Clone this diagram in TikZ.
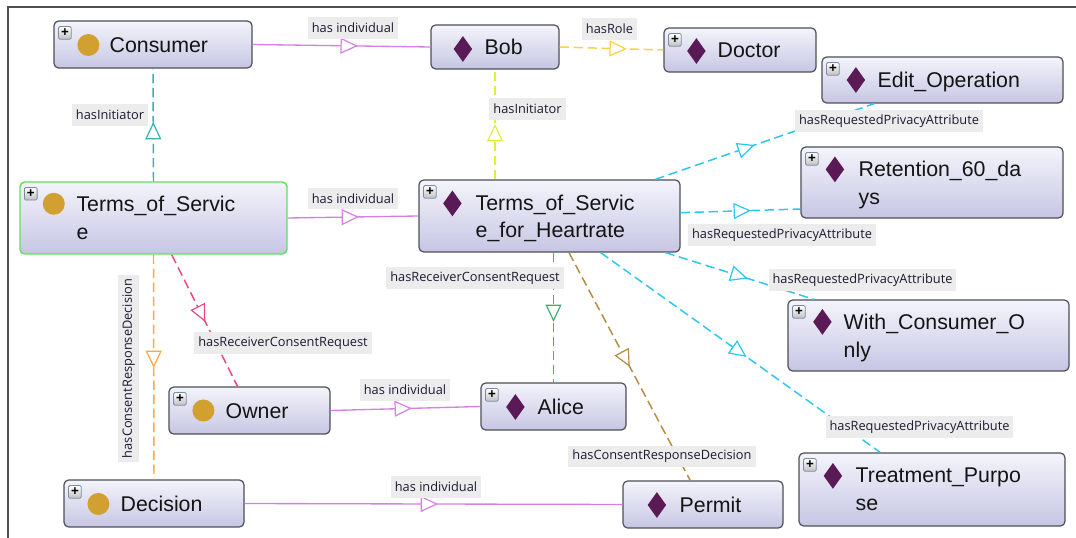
\documentclass[tikz,border=0pt]{standalone}
\usepackage{fontspec}
\setmainfont{Liberation Sans}
\newfontfamily\lblfont{Open Sans}
\usetikzlibrary{arrows.meta,decorations.markings,calc,shapes.geometric}
\definecolor{boxtop}{RGB}{244,244,251}
\definecolor{boxbot}{RGB}{198,198,228}
\definecolor{boxedge}{RGB}{78,78,88}
\definecolor{gold}{RGB}{210,160,48}
\definecolor{plum}{RGB}{90,26,86}
\definecolor{indiv}{RGB}{212,130,226}
\definecolor{rolec}{RGB}{255,208,64}
\definecolor{teal1}{RGB}{56,178,178}
\definecolor{lime1}{RGB}{222,240,60}
\definecolor{cyan1}{RGB}{40,200,240}
\definecolor{green1}{RGB}{60,180,110}
\definecolor{pink1}{RGB}{240,70,130}
\definecolor{brown1}{RGB}{182,140,64}
\definecolor{orange1}{RGB}{255,168,60}
\definecolor{lblbg}{RGB}{236,236,236}
\definecolor{lbltext}{RGB}{30,25,50}
\definecolor{framec}{RGB}{80,80,80}
\definecolor{tosgreen}{RGB}{100,222,100}
\definecolor{plusedge}{RGB}{120,140,165}
\tikzset{
  obox/.style={draw=boxedge, line width=0.9pt, rounded corners=3.5pt, top color=boxtop, bottom color=boxbot, inner sep=0pt},
  otext/.style={anchor=base west, inner sep=0pt, font=\fontsize{16}{20}\selectfont, text=black!92},
  goldicon/.style={circle, fill=gold, minimum size=16.5pt, inner sep=0pt},
  plumicon/.style={diamond, fill=plum, minimum width=14pt, minimum height=19.5pt, inner sep=0pt},
  plusicon/.style={draw=plusedge, line width=0.6pt, rounded corners=1pt, top color=white, bottom color=black!25, minimum size=9.5pt, inner sep=0pt, font=\fontsize{10}{10}\bfseries\selectfont},
  lbl/.style={fill=lblbg, text=lbltext, font=\lblfont\fontsize{9.6}{11}\selectfont, inner xsep=3pt, inner ysep=0pt, minimum height=16pt},
  rel/.style={line width=1.1pt, dash pattern=on 7pt off 3.5pt},
  indivrel/.style={line width=1pt, draw=indiv},
  tipat/.style={postaction={decorate}, decoration={markings, mark=at position #1 with {\arrow{Triangle[fill=white, length=13pt, width=12pt, line width=0.9pt]}}}},
}
\begin{document}
\begin{tikzpicture}[x=0.75pt,y=-0.75pt]
\fill[white] (0,0) rectangle (1076,538);
\useasboundingbox (0,0) rectangle (1076,538);
\draw[framec, line width=1.5pt] (8,538) -- (8,7) -- (1076,7);

% ---------- boxes ----------
\node[obox, minimum width=148.5pt, minimum height=35.25pt] (consumer) at (153,44.5) {};
\node[obox, minimum width=96pt, minimum height=33pt] (bob) at (495,47) {};
\node[obox, minimum width=114pt, minimum height=33pt] (doctor) at (740,50) {};
\node[obox, minimum width=180.75pt, minimum height=34.5pt] (edit) at (942.5,80) {};
\node[obox, minimum width=196.5pt, minimum height=53.25pt] (ret) at (932,182.5) {};
\node[obox, draw=tosgreen, line width=1.1pt, minimum width=200.25pt, minimum height=54pt] (tos) at (153.5,218) {};
\node[obox, minimum width=195.75pt, minimum height=54pt] (hr) at (549.5,216) {};
\node[obox, minimum width=210.75pt, minimum height=53.25pt] (wco) at (928.5,335.5) {};
\node[obox, minimum width=199.5pt, minimum height=54.75pt] (treat) at (932,489.5) {};
\node[obox, minimum width=120.75pt, minimum height=35.25pt] (owner) at (249.5,410.5) {};
\node[obox, minimum width=108.75pt, minimum height=35.25pt] (alice) at (553.5,406.5) {};
\node[obox, minimum width=135pt, minimum height=35.25pt] (decision) at (154,503.5) {};
\node[obox, minimum width=120pt, minimum height=35.25pt] (permit) at (703,504.5) {};

% ---------- plus icons ----------
\foreach \n in {consumer,doctor,edit,ret,tos,hr,wco,treat,owner,alice,decision}{
  \node[plusicon] (\n P) at ($(\n.north west)+(11.5,12.5)$) {+};
}

% ---------- type icons ----------
\node[goldicon] (consumerI) at ($(consumer.west)+(35,0.5)$) {};
\node[plumicon] (bobI) at ($(bob.west)+(32.5,2)$) {};
\node[plumicon] (doctorI) at ($(doctor.west)+(33,1)$) {};
\node[plumicon] (editI) at ($(edit.west)+(34.5,0)$) {};
\node[plumicon] (retI) at ($(ret.north west)+(34.5,23)$) {};
\node[goldicon] (tosI) at ($(tos.north west)+(34.5,22.5)$) {};
\node[plumicon] (hrI) at ($(hr.north west)+(34,24)$) {};
\node[plumicon] (wcoI) at ($(wco.north west)+(35,22.5)$) {};
\node[plumicon] (treatI) at ($(treat.north west)+(34.5,23.5)$) {};
\node[goldicon] (ownerI) at ($(owner.west)+(35,0)$) {};
\node[plumicon] (aliceI) at ($(alice.west)+(35,0.5)$) {};
\node[goldicon] (decisionI) at ($(decision.west)+(35,0.5)$) {};
\node[plumicon] (permitI) at ($(permit.west)+(34.5,0.5)$) {};

% ---------- texts ----------
\node[otext] (consumerT) at ($(consumer.west)+(56,7.7)$) {Consumer};
\node[otext] (bobT) at ($(bob.west)+(54,7.7)$) {Bob};
\node[otext] (doctorT) at ($(doctor.west)+(54,7.7)$) {Doctor};
\node[otext] (editT) at ($(edit.west)+(56,7.7)$) {Edit\_Operation};
\node[otext] (retT1) at ($(ret.north west)+(58,30.5)$) {Retention\_60\_da};
\node[otext] (retT2) at ($(ret.north west)+(58,58.5)$) {ys};
\node[otext] (tosT1) at ($(tos.north west)+(57,30)$) {Terms\_of\_Servic};
\node[otext] (tosT2) at ($(tos.north west)+(57,58)$) {e};
\node[otext] (hrT1) at ($(hr.north west)+(57,30.7)$) {Terms\_of\_Servic};
\node[otext] (hrT2) at ($(hr.north west)+(57,58.5)$) {e\_for\_Heartrate};
\node[otext] (wcoT1) at ($(wco.north west)+(56,30)$) {With\_Consumer\_O};
\node[otext] (wcoT2) at ($(wco.north west)+(56,58)$) {nly};
\node[otext] (treatT1) at ($(treat.north west)+(57,30.5)$) {Treatment\_Purpo};
\node[otext] (treatT2) at ($(treat.north west)+(57,58)$) {se};
\node[otext] (ownerT) at ($(owner.west)+(57,7.7)$) {Owner};
\node[otext] (aliceT) at ($(alice.west)+(57,7.7)$) {Alice};
\node[otext] (decisionT) at ($(decision.west)+(57,7.7)$) {Decision};
\node[otext] (permitT) at ($(permit.west)+(57,7.7)$) {Permit};

% ---------- connectors ----------
\draw[indivrel, tipat=0.592] (consumer.east) -- (bob.west);
\draw[rel, draw=rolec, tipat=0.648] (bob.east) -- (doctor.west);
\draw[rel, draw=teal1, tipat=0.526] (tos.north) -- (consumer.south);
\draw[rel, draw=lime1, tipat=0.505] (bob.south |- hr.north) -- (bob.south);
\draw[indivrel, tipat=0.545] (tos.east) -- (hr.west);
\draw[rel, draw=cyan1, tipat=0.454] (hr) -- (edit);
\draw[rel, draw=cyan1, tipat=0.587] ($(hr.east)+(0,-3.3)$) -- ($(ret.west)+(0,26.5)$);
\draw[rel, draw=cyan1, tipat=0.553] (hr) -- (wco);
\draw[rel, draw=cyan1, tipat=0.522] (hr) -- (treat);
\draw[rel, draw=green1, tipat=0.534] (alice.north |- hr.south) -- (alice.north);
\draw[rel, draw=brown1, tipat=0.502] (hr) -- (permit);
\draw[rel, draw=pink1, tipat=0.511] (tos) -- (owner);
\draw[rel, draw=orange1, tipat=0.504] (tos.south) -- (decision.north);
\draw[indivrel, tipat=0.543] (owner.east) -- (alice.west);
\draw[indivrel, tipat=0.512] (decision.east) -- (permit.west);

% ---------- labels ----------
\node[lbl] (l1) at (353,28) {has individual};
\node[lbl] (l2) at (609.5,29) {hasRole};
\node[lbl] (l3) at (110,115) {hasInitiator};
\node[lbl] (l4) at (527.5,109) {hasInitiator};
\node[lbl] (l5) at (353,198.5) {has individual};
\node[lbl] (l6) at (889,121) {hasRequestedPrivacyAttribute};
\node[lbl] (l7) at (782,235) {hasRequestedPrivacyAttribute};
\node[lbl] (l8) at (862.5,280) {hasRequestedPrivacyAttribute};
\node[lbl] (l9) at (919.5,427) {hasRequestedPrivacyAttribute};
\node[lbl] (l10) at (475,278) {hasReceiverConsentRequest};
\node[lbl] (l11) at (283,343) {hasReceiverConsentRequest};
\node[lbl] (l12) at (662,456.5) {hasConsentResponseDecision};
\node[lbl, rotate=90] (l13) at (128.5,368.5) {hasConsentResponseDecision};
\node[lbl] (l14) at (405,390) {has individual};
\node[lbl] (l15) at (436,487) {has individual};
\end{tikzpicture}
\end{document}
